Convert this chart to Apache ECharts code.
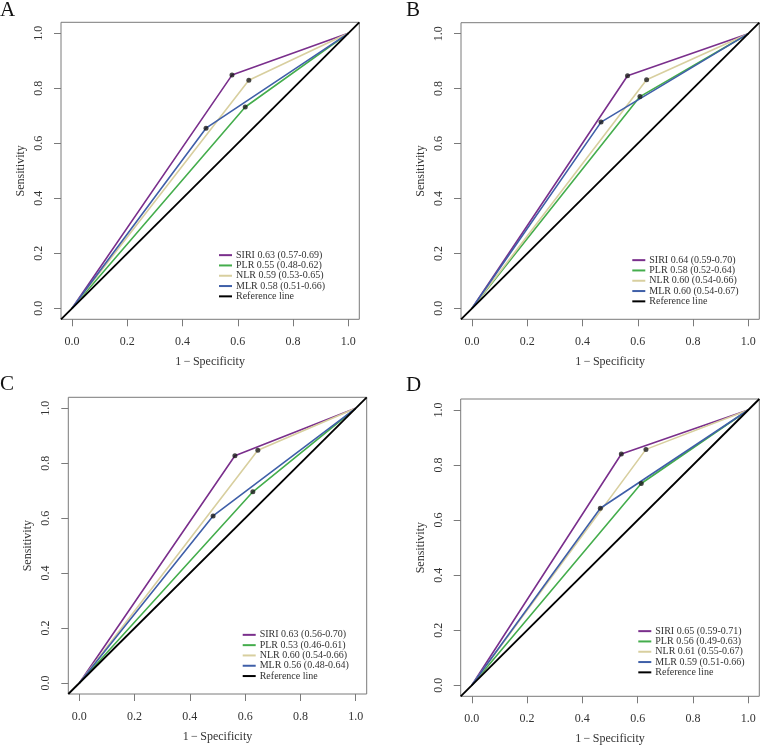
<!DOCTYPE html>
<html>
<head>
<meta charset="utf-8">
<script src="https://cdn.jsdelivr.net/npm/echarts@6/dist/echarts.min.js"></script>
<style>html,body{margin:0;padding:0;background:#fff}#c{width:760px;height:748px}</style>
</head>
<body>
<div id="c"></div>
<script>
// ---- data ----
const panelLetters = ['A', 'B', 'C', 'D'];
const markerNames = ['SIRI', 'PLR', 'NLR', 'MLR'];
const tickValues = [0, 0.2, 0.4, 0.6, 0.8, 1.0];
const tickLabels = ['0.0', '0.2', '0.4', '0.6', '0.8', '1.0'];
// cut-point (1-specificity, sensitivity) per marker: SIRI, PLR, NLR, MLR
const fprA = [0.579, 0.627, 0.640, 0.485];
const tprA = [0.848, 0.732, 0.829, 0.655];
const fprB = [0.563, 0.608, 0.632, 0.467];
const tprB = [0.847, 0.771, 0.832, 0.678];
const fprC = [0.563, 0.628, 0.646, 0.484];
const tprC = [0.827, 0.696, 0.847, 0.608];
const fprD = [0.541, 0.613, 0.630, 0.465];
const tprD = [0.840, 0.733, 0.857, 0.643];
const aucA = ['0.63 (0.57-0.69)', '0.55 (0.48-0.62)', '0.59 (0.53-0.65)', '0.58 (0.51-0.66)'];
const aucB = ['0.64 (0.59-0.70)', '0.58 (0.52-0.64)', '0.60 (0.54-0.66)', '0.60 (0.54-0.67)'];
const aucC = ['0.63 (0.56-0.70)', '0.53 (0.46-0.61)', '0.60 (0.54-0.66)', '0.56 (0.48-0.64)'];
const aucD = ['0.65 (0.59-0.71)', '0.56 (0.49-0.63)', '0.61 (0.55-0.67)', '0.59 (0.51-0.66)'];
const refLabel = 'Reference line';

// ---- styling / layout ----
const colors = ['#7a2f8c', '#44ad4c', '#d8cf9f', '#3f5fa8'];
const font = "'Liberation Serif', 'Times New Roman', serif";
const grids = [
  {left: 61, top: 22.3, width: 298.3, height: 297},
  {left: 461, top: 22.7, width: 298.3, height: 296.6},
  {left: 68.3, top: 397.3, width: 298.4, height: 296.7},
  {left: 460.7, top: 399, width: 298.6, height: 297.3}
];
const legendPos = [
  {left: 219, top: 250},
  {left: 632.3, top: 255},
  {left: 242.7, top: 629.7},
  {left: 638.3, top: 626}
];
const letterPos = [
  {left: 0, top: 0}, {left: 406, top: 0}, {left: 0, top: 374}, {left: 406, top: 375}
];
const fprs = [fprA, fprB, fprC, fprD];
const tprs = [tprA, tprB, tprC, tprD];
const aucs = [aucA, aucB, aucC, aucD];

const option = {
  animation: false,
  backgroundColor: '#fff',
  grid: [], xAxis: [], yAxis: [], series: [], legend: [], graphic: []
};

panelLetters.forEach((L, p) => {
  option.grid.push(Object.assign({show: true, borderColor: '#7a7a7a', borderWidth: 1, backgroundColor: 'transparent'}, grids[p]));
  const axisCommon = {
    type: 'value', gridIndex: p, min: -0.04, max: 1.04,
    axisLine: {show: false, onZero: false},
    axisTick: {show: true, inside: false, length: 7, lineStyle: {color: '#7a7a7a', width: 1}, customValues: tickValues},
    splitLine: {show: false},
    nameLocation: 'middle',
    nameTextStyle: {fontFamily: font, fontSize: 12, color: '#333'}
  };
  option.xAxis.push(Object.assign({}, axisCommon, {
    position: 'bottom',
    name: '1\u2009\u2212\u2009Specificity', nameGap: 37,
    axisLabel: {customValues: tickValues, margin: 17, fontFamily: font, fontSize: 12, color: '#333',
      formatter: v => tickLabels[tickValues.findIndex(t => Math.abs(t - v) < 1e-6)]}
  }));
  option.yAxis.push(Object.assign({}, axisCommon, {
    position: 'left',
    name: 'Sensitivity', nameGap: 34, nameRotate: 90,
    axisLabel: {customValues: tickValues, margin: 16, rotate: 90, fontFamily: font, fontSize: 12, color: '#333',
      formatter: v => tickLabels[tickValues.findIndex(t => Math.abs(t - v) < 1e-6)]}
  }));
  const names = [];
  markerNames.forEach((m, i) => {
    const nm = m + ' ' + aucs[p][i] + '\u200b'.repeat(p);
    names.push(nm);
    option.series.push({
      type: 'line', name: nm, xAxisIndex: p, yAxisIndex: p,
      data: [[0, 0], [fprs[p][i], tprs[p][i]], [1, 1]],
      showSymbol: false, symbol: 'none',
      lineStyle: {color: colors[i], width: 1.6}, itemStyle: {color: colors[i]}
    });
  });
  const refName = refLabel + '\u200b'.repeat(p);
  names.push(refName);
  option.series.push({
    type: 'line', name: refName, xAxisIndex: p, yAxisIndex: p,
    data: [[-0.04, -0.04], [1.04, 1.04]],
    showSymbol: false, symbol: 'none', clip: true,
    lineStyle: {color: '#000', width: 1.8}, itemStyle: {color: '#000'}
  });
  option.series.push({
    type: 'scatter', name: 'cut' + p, xAxisIndex: p, yAxisIndex: p,
    data: fprs[p].map((x, i) => [x, tprs[p][i]]),
    symbolSize: 5, itemStyle: {color: '#1a1a1a'}, z: 5
  });
  option.legend.push({
    data: names.map(n => ({name: n, icon: 'rect'})),
    orient: 'vertical', left: legendPos[p].left, top: legendPos[p].top,
    itemWidth: 13, itemHeight: 2, itemGap: 0, padding: 0,
    selectedMode: false,
    textStyle: {fontFamily: font, fontSize: 10, color: '#333', lineHeight: 10.3, padding: [0, 0, 0, -1]}
  });
  option.graphic.push({
    type: 'text', left: letterPos[p].left, top: letterPos[p].top,
    style: {text: L, font: '21px ' + font, fill: '#111'}
  });
});

const chart = echarts.init(document.getElementById('c'), null, {renderer: 'canvas'});
chart.setOption(option);
</script>
</body>
</html>
